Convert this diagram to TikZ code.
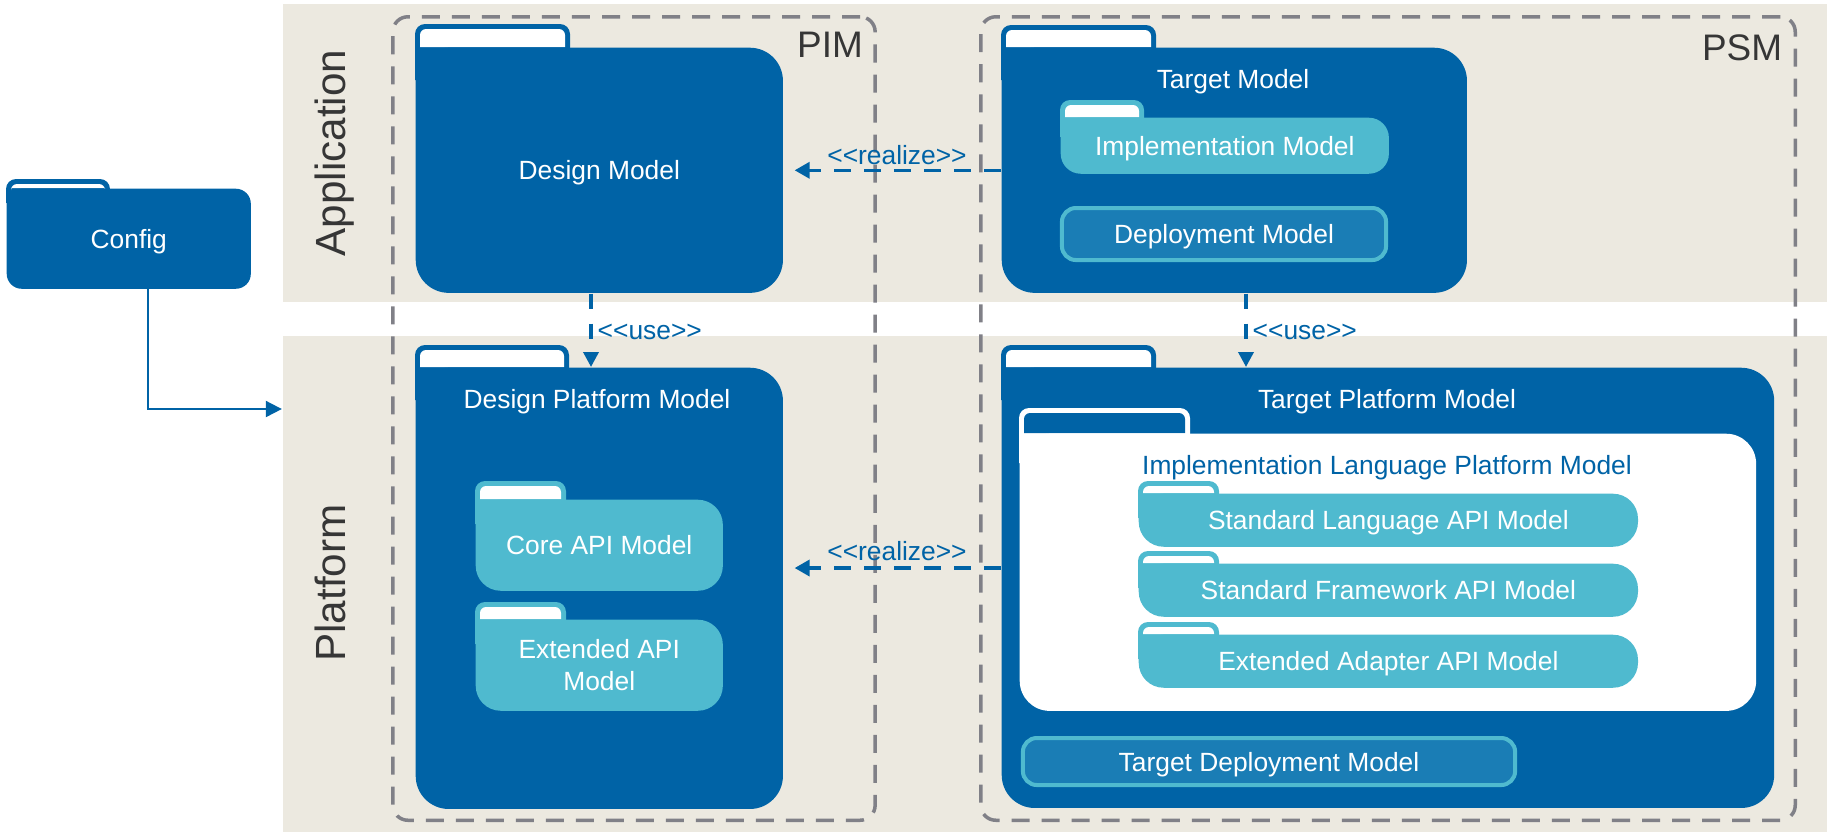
\documentclass[tikz,border=0pt]{standalone}
\usepackage{fontspec}
\setmainfont{Liberation Sans}
\usepackage{xcolor}
\usepackage{tikz}
\usetikzlibrary{arrows.meta}
\usetikzlibrary{calc}

\definecolor{pkgblue}{HTML}{0063A6}
\definecolor{pkgcyan}{HTML}{4FBACF}
\definecolor{deplblue}{HTML}{1A7DB5}
\definecolor{bandbeige}{HTML}{ECE9E0}
\definecolor{boxgray}{HTML}{808087}
\definecolor{labelgray}{HTML}{363636}

\tikzset{
  every node/.append style={text depth=0pt},
  band/.style={rectangle, fill=bandbeige, inner sep=0pt},
  modelbox/.style={rectangle, draw=boxgray, line width=0.035cm, dash pattern=on 0.18cm off 0.12cm, rounded corners=0.15cm, inner sep=0pt},
  pkg/.style={rectangle, fill=pkgblue, text=white, inner sep=0pt, rounded corners=0.33cm, anchor=north west},
  subpkg/.style={rectangle, fill=pkgcyan, text=white, inner sep=0pt, rounded corners=0.25cm, anchor=north west},
  deploybox/.style={rectangle, fill=deplblue, draw=pkgcyan, line width=0.04cm, text=white, inner sep=0pt, rounded corners=0.14cm},
  realize/.style={color=pkgblue, line width=0.035cm, dash pattern=on 0.17cm off 0.13cm, -{Triangle[width=0.16cm,length=0.15cm]}},
  usearrow/.style={color=pkgblue, line width=0.035cm, dash pattern=on 0.15cm off 0.15cm, -{Triangle[width=0.15cm,length=0.15cm]}},
  bigtext/.style={text=labelgray, font=\fontsize{12}{14}\selectfont}
}

% tab of a folder: corner, tab width, tab height, tab colour, inner colour, overlap
\newcommand{\foldertab}[6]{%
  \fill[#4, rounded corners=0.1cm] ($(#1)+(0,#6)$) |- ($(#1)+(#2,-#3)$) -- ($(#1)+(#2,#6)$);
  \fill[#5, rounded corners=0.06cm] ($(#1)+(5,0)$) |- ($(#1)+(#2-5,-#3+5)$) -- ($(#1)+(#2-5,0)$);
}

\begin{document}
\begin{tikzpicture}[x=0.01cm,y=-0.01cm,font=\fontsize{7.5}{9}\selectfont]
\useasboundingbox (0,0) rectangle (1827,832);

% layers
\node[band, minimum width=15.44cm, minimum height=2.98cm] (appband) at (1055,153) {};
\node[band, minimum width=15.44cm, minimum height=4.96cm] (platband) at (1055,584) {};
\node[bigtext, rotate=90] (applbl) at (330,153) {Application};
\node[bigtext, rotate=90] (platlbl) at (330,583) {Platform};

% PIM / PSM
\node[modelbox, minimum width=4.82cm, minimum height=8.03cm] (pim) at (634,418.5) {};
\node[modelbox, minimum width=8.14cm, minimum height=8.03cm] (psm) at (1388,418.5) {};
\node[text=labelgray, font=\fontsize{10.5}{12}\selectfont] (pimlbl) at (830,45) {PIM};
\node[text=labelgray, font=\fontsize{10.5}{12}\selectfont] (psmlbl) at (1742,48) {PSM};

% config
\coordinate (cfgnw) at (6,188);
\foldertab{cfgnw}{104}{9}{pkgblue}{white}{15}
\node[pkg, rounded corners=0.15cm, minimum width=2.44cm, minimum height=1cm] (cfg) at (cfgnw) {Config};

% application models
\coordinate (dmnw) at (415,47);
\foldertab{dmnw}{155}{23}{pkgblue}{white}{33}
\node[pkg, minimum width=3.67cm, minimum height=2.45cm] (dm) at (dmnw) {Design Model};

\coordinate (tmnw) at (1001,47);
\foldertab{tmnw}{155}{22}{pkgblue}{white}{33}
\node[pkg, minimum width=4.65cm, minimum height=2.45cm] (tm) at (tmnw) {};
\node[text=white] (tmtitle) at (1233,79) {Target Model};
\coordinate (implnw) at (1060,117);
\foldertab{implnw}{84}{17}{pkgcyan}{white}{20}
\node[subpkg, rounded corners=0.2cm, minimum width=3.28cm, minimum height=0.56cm] (impl) at (implnw) {Implementation Model};
\node[deploybox, minimum width=3.24cm, minimum height=0.52cm] (depl) at (1224,234) {Deployment Model};

% platform models
\coordinate (dpmnw) at (415,367);
\foldertab{dpmnw}{154}{22}{pkgblue}{white}{33}
\node[pkg, minimum width=3.67cm, minimum height=4.41cm] (dpm) at (dpmnw) {};
\node[text=white] (dpmtitle) at (597,399) {Design Platform Model};
\coordinate (corenw) at (475,499);
\foldertab{corenw}{91}{18}{pkgcyan}{white}{25}
\node[subpkg, minimum width=2.47cm, minimum height=0.91cm] (core) at (corenw) {Core API Model};
\coordinate (extnw) at (475,619);
\foldertab{extnw}{91}{17}{pkgcyan}{white}{25}
\node[subpkg, minimum width=2.47cm, minimum height=0.91cm, align=center] (ext) at (extnw) {Extended API\\Model};

\coordinate (tpmnw) at (1001,367);
\foldertab{tpmnw}{155}{22}{pkgblue}{white}{33}
\node[pkg, minimum width=7.72cm, minimum height=4.40cm] (tpm) at (tpmnw) {};
\node[text=white] (tpmtitle) at (1387,399) {Target Platform Model};
\coordinate (ilpmnw) at (1019,433);
\foldertab{ilpmnw}{171}{25}{white}{pkgblue}{30}
\node[pkg, fill=white, rounded corners=0.3cm, minimum width=7.36cm, minimum height=2.77cm] (ilpm) at (ilpmnw) {};
\node[text=pkgblue] (ilpmtitle) at (1387,465) {Implementation Language Platform Model};
\coordinate (slanw) at (1138,493);
\foldertab{slanw}{81}{12}{pkgcyan}{white}{25}
\node[subpkg, minimum width=4.99cm, minimum height=0.53cm] (sla) at (slanw) {Standard Language API Model};
\coordinate (sfanw) at (1138,563);
\foldertab{sfanw}{81}{12}{pkgcyan}{white}{25}
\node[subpkg, minimum width=4.99cm, minimum height=0.53cm] (sfa) at (sfanw) {Standard Framework API Model};
\coordinate (eaanw) at (1138,634);
\foldertab{eaanw}{81}{12}{pkgcyan}{white}{25}
\node[subpkg, minimum width=4.99cm, minimum height=0.53cm] (eaa) at (eaanw) {Extended Adapter API Model};
\node[deploybox, minimum width=4.92cm, minimum height=0.47cm] (tdm) at (1269,761.5) {Target Deployment Model};

% dependencies
\coordinate (u1) at (591,0);
\coordinate (u2) at (1246,0);
\coordinate (r2) at (0,568);
\coordinate (c1) at (148,409);
\draw[realize, shorten >=0.11cm] (tm.west) -- (dm.east);
\node[text=pkgblue] (rlz1) at (897,155) {<{}<realize>{}>};
\draw[realize, shorten >=0.11cm] (tpm.west |- r2) -- (dpm.east |- r2);
\node[text=pkgblue] (rlz2) at (897,551) {<{}<realize>{}>};
\draw[usearrow] (dm.south -| u1) -- (dpm.north -| u1);
\node[text=pkgblue, anchor=west, inner sep=0pt] (use1) at (597,332) {<{}<use>{}>};
\draw[usearrow] (tm.south -| u2) -- (tpm.north -| u2);
\node[text=pkgblue, anchor=west, inner sep=0pt] (use2) at (1252,332) {<{}<use>{}>};
\draw[pkgblue, line width=0.02cm, -{Triangle[width=0.16cm,length=0.16cm]}] (cfg.south -| c1) |- (platband.west |- c1);
\end{tikzpicture}
\end{document}
